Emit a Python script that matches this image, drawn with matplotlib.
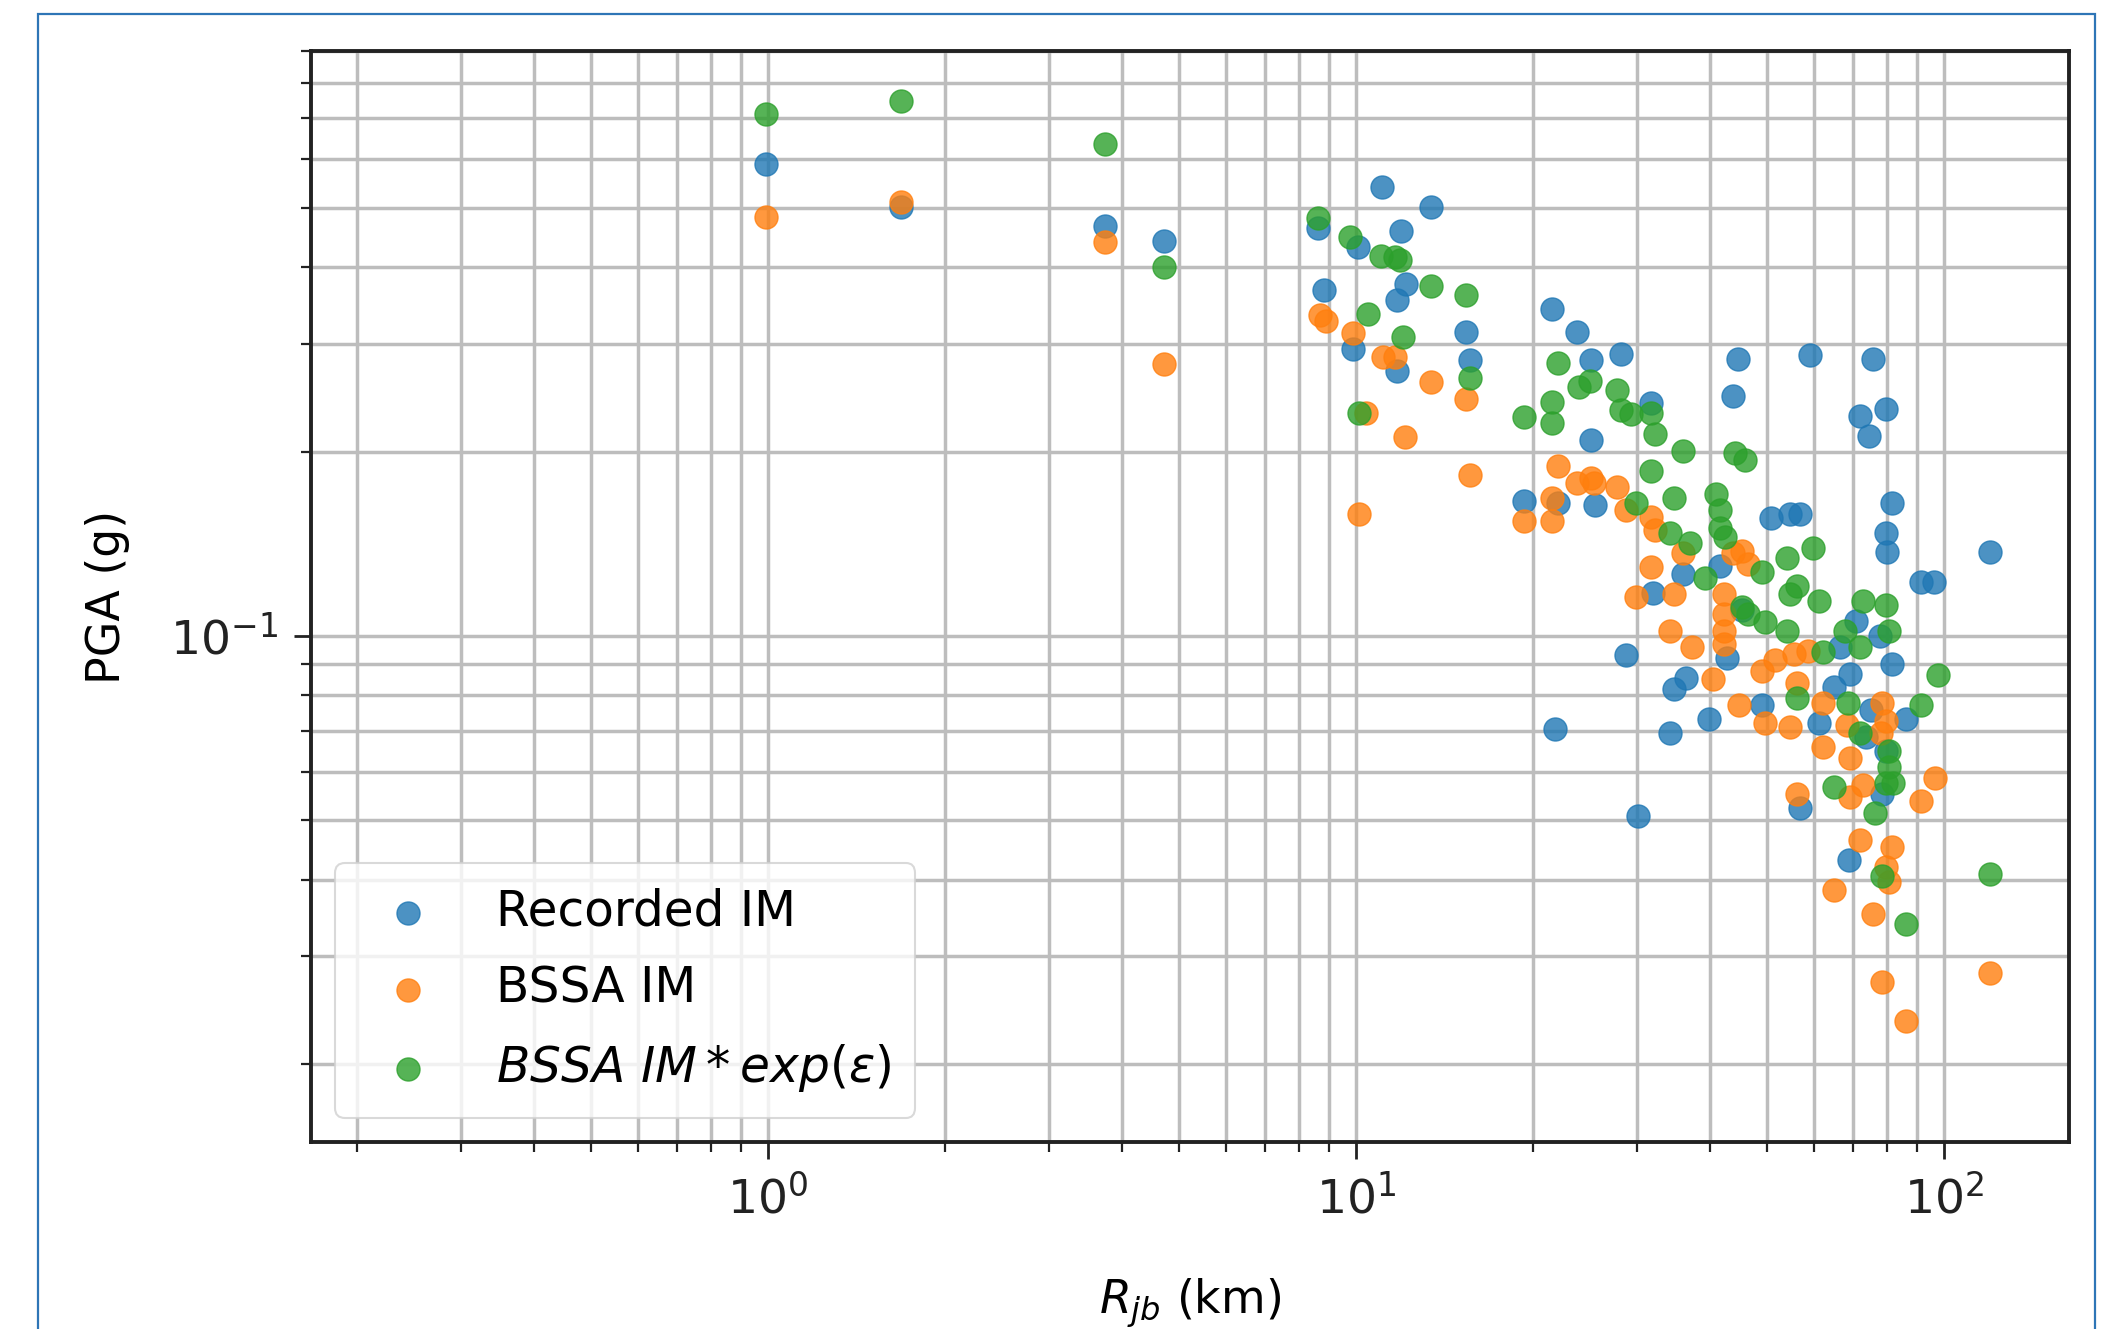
import matplotlib
matplotlib.use("Agg")
import matplotlib.pyplot as plt
from matplotlib.patches import Rectangle

# ---- data ----
rec_x = [0.99, 1.68, 3.74, 4.72, 8.62, 10.05, 11.06, 13.38, 11.91, 8.81, 12.17, 11.72, 9.89, 11.72,
         15.36, 15.6, 21.5, 23.7, 25.1, 28.2, 44.5, 43.8, 31.7, 25.1, 19.3, 22.0, 25.5, 36.0, 32.0,
         41.5, 72.0, 74.4, 79.6, 59.2, 75.5, 50.8, 54.7, 56.8, 81.4, 79.6, 79.8, 119.7, 91.4, 95.9,
         28.8, 42.7, 36.4, 34.7, 39.8, 34.2, 21.8, 48.9, 61.1, 64.8, 70.9, 66.5, 81.4, 86.2, 69.0,
         45.2, 78.4, 56.8, 30.1, 75.1, 68.8, 77.6, 73.5, 79.6]
rec_y = [0.589, 0.501, 0.467, 0.441, 0.464, 0.432, 0.541, 0.501, 0.459, 0.367, 0.375, 0.353, 0.294,
         0.271, 0.314, 0.282, 0.342, 0.314, 0.282, 0.289, 0.2835, 0.246, 0.240, 0.209, 0.166, 0.1646,
         0.1637, 0.1263, 0.1177, 0.1302, 0.229, 0.212, 0.235, 0.288, 0.2835, 0.1556, 0.158, 0.158,
         0.1646, 0.147, 0.137, 0.137, 0.1226, 0.1226, 0.0931, 0.0922, 0.0854, 0.082, 0.0733, 0.0694,
         0.0704, 0.0772, 0.0722, 0.0824, 0.1057, 0.096, 0.0899, 0.0733, 0.0867, 0.1101, 0.0552,
         0.0524, 0.0508, 0.0756, 0.043, 0.1, 0.0683, 0.0649]

bssa_x = [0.99, 1.68, 3.74, 4.72, 8.67, 8.90, 9.89, 11.12, 11.66, 10.38, 12.10, 13.38, 15.36, 15.6,
          10.1, 22.0, 23.7, 25.1, 25.4, 27.8, 19.3, 21.5, 21.5, 28.7, 31.7, 32.2, 31.7, 29.9, 34.7,
          43.8, 36.0, 45.2, 46.4, 34.2, 37.2, 42.2, 42.2, 42.2, 42.2, 40.5, 48.9, 51.6, 55.6, 58.6,
          44.7, 49.5, 54.7, 56.2, 62.1, 68.3, 78.4, 79.6, 78.0, 62.1, 69.0, 96.4, 91.4, 69.0, 72.8,
          56.2, 72.0, 81.4, 79.6, 80.5, 64.8, 75.5, 78.4, 86.2, 119.7]
bssa_y = [0.4834, 0.511, 0.439, 0.278, 0.334, 0.327, 0.312, 0.285, 0.285, 0.231, 0.211, 0.260,
          0.2433, 0.183, 0.158, 0.1897, 0.1776, 0.181, 0.1776, 0.175, 0.154, 0.168, 0.154, 0.1604,
          0.1564, 0.1487, 0.1296, 0.1159, 0.117, 0.1364, 0.1364, 0.1377, 0.131, 0.102, 0.096, 0.117,
          0.1085, 0.102, 0.097, 0.085, 0.0876, 0.0913, 0.0936, 0.0945, 0.0772, 0.0722, 0.0711,
          0.0837, 0.0776, 0.0715, 0.0776, 0.0726, 0.0694, 0.0659, 0.0633, 0.0586, 0.0538, 0.0546,
          0.0571, 0.0552, 0.0464, 0.0452, 0.0419, 0.0396, 0.0385, 0.0351, 0.0272, 0.0235, 0.0282]

eps_x = [0.99, 1.68, 3.74, 4.72, 8.62, 9.74, 11.0, 11.66, 11.85, 13.38, 15.36, 10.49, 12.03, 15.6,
         10.1, 22.0, 23.95, 25.0, 27.8, 21.5, 21.5, 19.3, 28.2, 29.3, 31.7, 32.2, 31.7, 36.0, 44.0,
         45.9, 34.7, 29.9, 40.9, 34.2, 37.0, 41.5, 41.5, 42.4, 59.8, 54.1, 48.9, 39.2, 56.2, 54.7,
         61.1, 45.2, 46.4, 49.5, 54.1, 72.8, 79.6, 67.9, 62.1, 80.5, 72.0, 97.4, 91.4, 56.2, 68.7,
         72.0, 80.5, 80.5, 79.6, 81.8, 64.8, 76.3, 78.4, 86.2, 119.7]
eps_y = [0.711, 0.748, 0.636, 0.4005, 0.481, 0.448, 0.417, 0.415, 0.411, 0.373, 0.360, 0.335,
         0.3075, 0.264, 0.231, 0.279, 0.255, 0.261, 0.252, 0.241, 0.223, 0.228, 0.2337, 0.230,
         0.231, 0.214, 0.186, 0.2006, 0.1986, 0.1936, 0.168, 0.1646, 0.1705, 0.147, 0.142, 0.1604,
         0.150, 0.145, 0.139, 0.134, 0.127, 0.1244, 0.1207, 0.117, 0.114, 0.1113, 0.1085, 0.1052,
         0.102, 0.114, 0.1124, 0.102, 0.0941, 0.102, 0.096, 0.0863, 0.0772, 0.0791, 0.0776, 0.0694,
         0.0649, 0.0611, 0.0575, 0.0575, 0.0566, 0.0514, 0.0405, 0.0339, 0.0409]

labels = ["Recorded IM", "BSSA IM", r"$BSSA\ IM * exp(\epsilon)$"]
x_label = r"$R_{jb}$ (km)"
y_label = "PGA (g)"

# ---- figure ----
FS = 33
plt.rcParams["font.family"] = ["DejaVu Sans"]
plt.rcParams["font.size"] = FS

fig = plt.figure(figsize=(21.2, 13.29), dpi=100)
ax = fig.add_axes([0.1467, 0.1404, 0.976 - 0.1467, 0.9613 - 0.1404])

ms = 275
ax.scatter(rec_x, rec_y, s=ms, color="#1f77b4", alpha=0.8, label=labels[0], zorder=3)
ax.scatter(bssa_x, bssa_y, s=ms, color="#ff7f0e", alpha=0.8, label=labels[1], zorder=3)
ax.scatter(eps_x, eps_y, s=ms, color="#2ca02c", alpha=0.8, label=labels[2], zorder=3)

ax.set_xscale("log")
ax.set_yscale("log")
ax.set_xlim(0.167, 163)
ax.set_ylim(0.0149, 0.9)

ax.grid(True, which="both", color="#bdbdbd", linewidth=2.5, zorder=0)
ax.set_axisbelow(True)

for sp in ax.spines.values():
    sp.set_linewidth(2.8)
    sp.set_color("#222222")

ax.tick_params(which="major", length=12, width=2.0, pad=12, labelsize=34, colors="#222222")
ax.tick_params(which="minor", length=7, width=1.6, colors="#222222")

ax.set_xlabel(x_label, fontsize=FS)
ax.set_ylabel(y_label, fontsize=FS)
ax.xaxis.set_label_coords(0.5, -0.123)
ax.yaxis.set_label_coords(-0.103, 0.5)

leg = ax.legend(loc="lower left", fontsize=35, framealpha=0.8, fancybox=True,
                labelspacing=0.6, borderpad=0.5)
leg.get_frame().set_edgecolor("#d0d0d0")
leg.get_frame().set_linewidth(1.5)

# outer blue frame of the screenshot
fig.add_artist(Rectangle((38 / 2120, -0.02), (2095 - 38) / 2120, 1 - 14 / 1329 + 0.02,
                         transform=fig.transFigure, fill=False, edgecolor="#2e75b6",
                         linewidth=1.6, zorder=10))

fig.savefig("out.png", dpi=100)
